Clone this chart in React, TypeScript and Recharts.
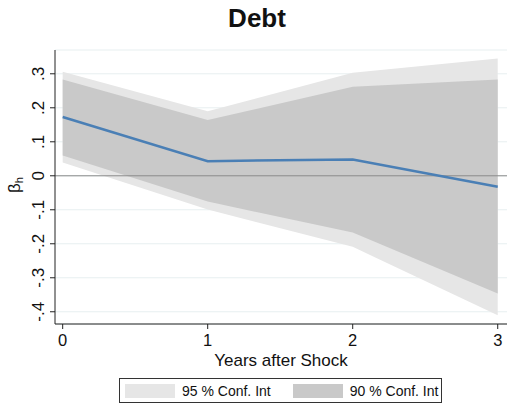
import React from 'react';
import {
  ComposedChart,
  Area,
  Line,
  XAxis,
  YAxis,
  CartesianGrid,
  ReferenceLine
} from 'recharts';

// horizon (years after shock) and estimated coefficients
const years = [0, 1, 2, 3];
const beta = [0.173, 0.043, 0.048, -0.032];
const ci95Low = [0.039, -0.099, -0.209, -0.41];
const ci95High = [0.306, 0.19, 0.303, 0.345];
const ci90Low = [0.06, -0.076, -0.167, -0.346];
const ci90High = [0.283, 0.164, 0.262, 0.283];

const yTicks = [-0.4, -0.3, -0.2, -0.1, 0, 0.1, 0.2, 0.3];
const yTickLabels = ['-.4', '-.3', '-.2', '-.1', '0', '.1', '.2', '.3'];

const FONT = '"Liberation Sans", Arial, Helvetica, sans-serif';
const BAND95 = '#e6e6e6';
const BAND90 = '#c9c9c9';

const data = years.map((y, i) => ({
  year: y,
  beta: beta[i],
  ci95: [ci95Low[i], ci95High[i]],
  ci90: [ci90Low[i], ci90High[i]]
}));

// y tick labels are drawn rotated, reading bottom-to-top
const RotatedTick = (props: any) => {
  const { x, y, payload } = props;
  const idx = yTicks.findIndex((t) => Math.abs(t - payload.value) < 1e-6);
  const label = idx >= 0 ? yTickLabels[idx] : String(payload.value);
  const bx = x - 4;
  return (
    <text
      x={bx}
      y={y}
      transform={`rotate(-90, ${bx}, ${y})`}
      textAnchor="middle"
      fontSize={17}
      fontFamily={FONT}
      fill="#111"
    >
      {label}
    </text>
  );
};

export default function App() {
  return (
    <div style={{ position: 'absolute', left: 0, top: 0, width: 515, height: 418, background: '#fff', fontFamily: FONT }}>
      <ComposedChart
        width={515}
        height={418}
        data={data}
        margin={{ top: 50, right: 8, left: 25, bottom: 64 }}
      >
        <CartesianGrid vertical={false} stroke="#e7eff0" strokeWidth={1} />
        <XAxis
          dataKey="year"
          type="number"
          domain={[-0.053, 3.064]}
          ticks={years}
          height={30}
          tickSize={5}
          tickMargin={5}
          tick={{ fontSize: 16.5, fill: '#111', fontFamily: FONT }}
          axisLine={{ stroke: '#222' }}
          tickLine={{ stroke: '#222' }}
        />
        <YAxis
          type="number"
          domain={[-0.436, 0.37]}
          ticks={yTicks}
          width={30}
          tickSize={5}
          tick={<RotatedTick />}
          axisLine={{ stroke: '#222' }}
          tickLine={{ stroke: '#222' }}
        />
        <Area
          dataKey="ci95"
          type="linear"
          stroke="none"
          fill={BAND95}
          fillOpacity={1}
          isAnimationActive={false}
        />
        <Area
          dataKey="ci90"
          type="linear"
          stroke="none"
          fill={BAND90}
          fillOpacity={1}
          isAnimationActive={false}
        />
        <ReferenceLine y={0} stroke="#8a8a8a" strokeWidth={1} />
        <Line
          dataKey="beta"
          type="linear"
          stroke="#4a7fb5"
          strokeWidth={2.5}
          dot={false}
          isAnimationActive={false}
        />
      </ComposedChart>

      {/* title and axis titles */}
      <svg
        width={515}
        height={418}
        style={{ position: 'absolute', left: 0, top: 0, pointerEvents: 'none' }}
        fontFamily={FONT}
      >
        <text x={257} y={27} textAnchor="middle" fontSize={26} fontWeight="bold" fill="#111">
          Debt
        </text>
        <text x={20} y={185} transform="rotate(-90, 20, 185)" textAnchor="middle" fontSize={17} fill="#111">
          β<tspan fontSize={11} dy={3}>h</tspan>
        </text>
        <text x={281} y={366} textAnchor="middle" fontSize={17} fill="#111">
          Years after Shock
        </text>
      </svg>

      <div
        style={{
          position: 'absolute',
          left: 119,
          top: 378,
          width: 323,
          height: 25,
          boxSizing: 'border-box',
          border: '1px solid #333',
          display: 'flex',
          alignItems: 'center',
          fontSize: 14,
          color: '#111'
        }}
      >
        <div style={{ width: 50, height: 14, background: BAND95, marginLeft: 5 }} />
        <span style={{ marginLeft: 7 }}>95 % Conf. Int</span>
        <div style={{ width: 50, height: 14, background: BAND90, marginLeft: 22 }} />
        <span style={{ marginLeft: 7 }}>90 % Conf. Int</span>
      </div>
    </div>
  );
}
